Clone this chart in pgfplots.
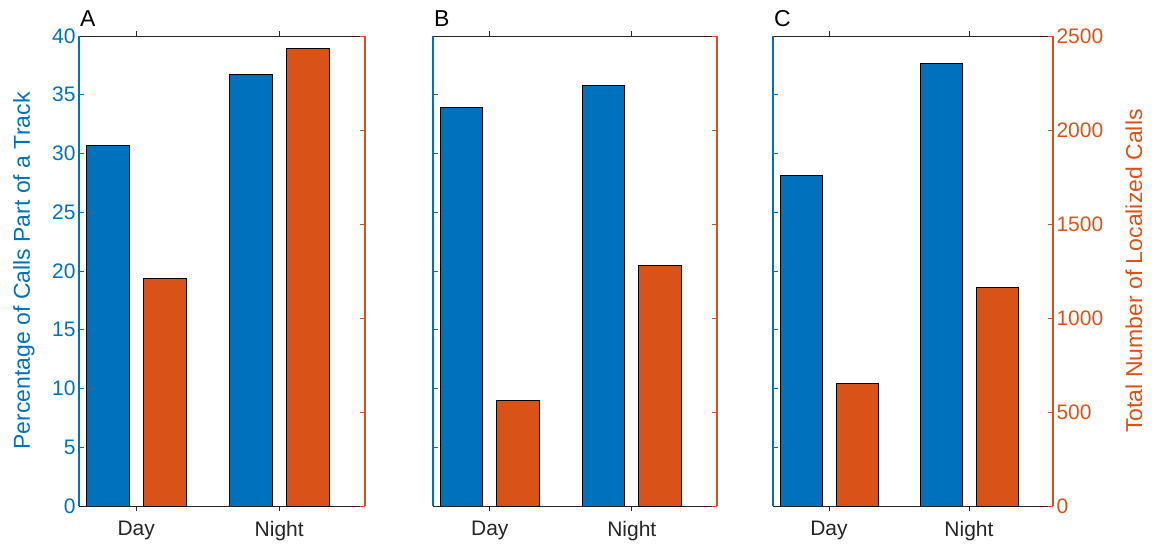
\documentclass[border=0pt]{standalone}
\usepackage{fontspec}
\setmainfont{Liberation Sans}
\usepackage{pgfplots}
\pgfplotsset{compat=1.18}
\definecolor{mblue}{RGB}{0,114,189}
\definecolor{morange}{RGB}{217,83,25}
\definecolor{mgray}{RGB}{38,38,38}
\pgfplotsset{
  base/.style={
    scale only axis, anchor=south west, height=470pt,
    xmin=0.6, xmax=2.6,
    /pgf/number format/assume math mode=true,
    /pgf/number format/1000 sep={},
    tick align=inside, major tick length=5pt,
    ybar, bar width=0.3,
    axis line style={draw=none},
    ticklabel style={font=\fontsize{21}{25}\selectfont},
    label style={font=\fontsize{23}{27}\selectfont},
  },
  leftax/.style={base,
    ymin=0, ymax=40, ytick={0,5,...,40},
    axis x line*=bottom, axis y line*=left,
    xtick={1,2}, xticklabels={Day,Night},
    xtick style={draw=mgray, line width=0.8pt},
    ytick style={draw=mblue, line width=0.8pt},
    yticklabel style={color=mblue},
    xticklabel style={color=mgray, yshift=-7pt},
    title style={at={(axis description cs:0,1)}, anchor=base west, yshift=4pt, inner sep=0pt, xshift=1pt, font=\fontsize{23}{27}\selectfont},
    after end axis/.code={
      \draw[mgray, line width=0.9pt] (rel axis cs:0,0) -- (rel axis cs:1,0);
      \draw[mgray, line width=0.9pt] (rel axis cs:0,1) -- (rel axis cs:1,1);
      \draw[mblue, line width=1.1pt] (rel axis cs:0,0) -- (rel axis cs:0,1);
    },
  },
  rightax/.style={base,
    ymin=0, ymax=2500, ytick={0,500,...,2500},
    axis x line*=top, axis y line*=right,
    xtick={1,2}, xticklabels={},
    xtick style={draw=mgray, line width=0.8pt},
    ytick style={draw=morange, line width=0.8pt},
    yticklabel style={color=morange},
    after end axis/.code={
      \draw[morange, line width=1.1pt] (rel axis cs:1,0) -- (rel axis cs:1,1);
    },
  },
  bb/.style={fill=mblue, draw=black, line width=1pt},
  ob/.style={fill=morange, draw=black, line width=1pt},
}
\begin{document}
\begin{tikzpicture}
\useasboundingbox (0,0) rectangle (1159pt,544pt);
% Panel A
\begin{axis}[leftax, at={(79pt,38pt)}, width=286pt, title={A},
  ylabel={Percentage of Calls Part of a Track},
  ylabel style={color=mblue, at={(axis description cs:-0.1923,0.5)}, anchor=center}]
\addplot[bb] coordinates {(0.8,30.7) (1.8,36.7)};
\end{axis}
\begin{axis}[rightax, at={(79pt,38pt)}, width=286pt, yticklabels={}]
\addplot[ob] coordinates {(1.2,1209) (2.2,2436)};
\end{axis}
% Panel B
\begin{axis}[leftax, at={(433pt,38pt)}, width=284pt, title={B}, yticklabels={}]
\addplot[bb] coordinates {(0.8,33.9) (1.8,35.8)};
\end{axis}
\begin{axis}[rightax, at={(433pt,38pt)}, width=284pt, yticklabels={}]
\addplot[ob] coordinates {(1.2,560) (2.2,1278)};
\end{axis}
% Panel C
\begin{axis}[leftax, at={(773pt,38pt)}, width=280pt, title={C}, yticklabels={}]
\addplot[bb] coordinates {(0.8,28.1) (1.8,37.7)};
\end{axis}
\begin{axis}[rightax, at={(773pt,38pt)}, width=280pt,
  ylabel={Total Number of Localized Calls},
  ylabel style={color=morange, at={(axis description cs:1.289,0.5)}, anchor=center, rotate=0}]
\addplot[ob] coordinates {(1.2,654) (2.2,1161)};
\end{axis}
\end{tikzpicture}
\end{document}
